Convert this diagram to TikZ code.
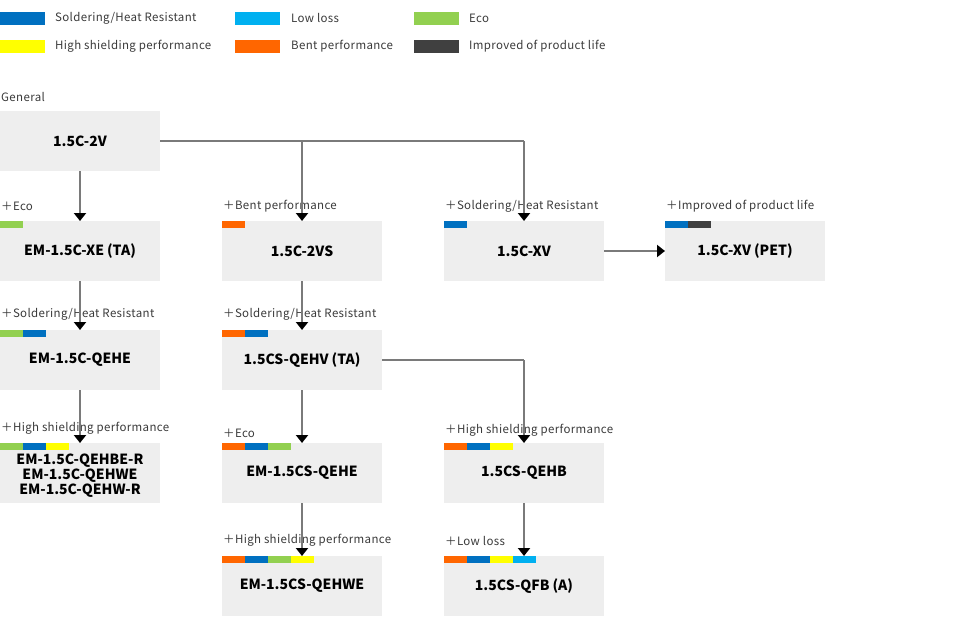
\documentclass[tikz,border=0pt]{standalone}
\usepackage{fontspec}
\setmainfont{Noto Sans CJK JP}
\newfontfamily\lblfont[LetterSpace=3]{Noto Sans CJK JP}
\usetikzlibrary{arrows.meta}
\definecolor{cSold}{HTML}{0070C0}
\definecolor{cLow}{HTML}{00B0F0}
\definecolor{cEco}{HTML}{92D050}
\definecolor{cShield}{HTML}{FFFF00}
\definecolor{cBent}{HTML}{FF6600}
\definecolor{cLife}{HTML}{404040}
\definecolor{boxfill}{HTML}{EEEEEE}
\definecolor{lblcol}{HTML}{3A3A3A}
\definecolor{linecol}{HTML}{7A7A7A}
\tikzset{
  prodbox/.style={fill=boxfill, minimum width=160pt, minimum height=60pt, inner sep=0pt, outer sep=0pt, anchor=north west,
    font=\fontsize{14}{15}\selectfont\bfseries, text=black, align=center},
  boxtext/.style={inner sep=0pt, font=\fontsize{14}{15}\selectfont\bfseries, text=black, align=center},
  lbl/.style={anchor=west, inner sep=0pt, font=\lblfont\fontsize{11.5}{13}\selectfont, text=lblcol},
  swatch/.style={inner sep=0pt, outer sep=0pt, minimum width=45pt, minimum height=13pt, anchor=west},
  conn/.style={draw=linecol, line width=2pt, -{Triangle[width=12pt,length=8pt,color=black]}},
  plainline/.style={draw=linecol, line width=2pt},
}
\newcommand{\bars}[2]{%
  \foreach \c [count=\i from 0] in {#2} {\fill[\c] ([xshift=\i*23pt]#1.north west) rectangle ++(23,7);}}
\newcommand{\pp}[1]{\hspace{3pt}(#1)}
\begin{document}
\begin{tikzpicture}[x=1pt,y=-1pt]
\useasboundingbox (0,0) rectangle (960,616);
% legend
\node[swatch, fill=cSold] (s1) at (0,18) {};
\node[lbl] (t1) at (55,18) {Soldering/Heat Resistant};
\node[swatch, fill=cLow] (s2) at (235,18) {};
\node[lbl] (t2) at (291,18) {Low loss};
\node[swatch, fill=cEco] (s3) at (414,18) {};
\node[lbl] (t3) at (469,18) {Eco};
\node[swatch, fill=cShield] (s4) at (0,46.5) {};
\node[lbl] (t4) at (55,46.5) {High shielding performance};
\node[swatch, fill=cBent] (s5) at (235,46.5) {};
\node[lbl] (t5) at (291,46.5) {Bent performance};
\node[swatch, fill=cLife] (s6) at (414,46.5) {};
\node[lbl] (t6) at (469,46.5) {Improved of product life};

% boxes
\node[prodbox] (top) at (0,111) {1.5C-2V};
\node[prodbox] (xe) at (0,221) {EM-1.5C-XE\pp{TA}};
\node[prodbox] (vs) at (222,221) {1.5C-2VS};
\node[prodbox] (xv) at (444,221) {1.5C-XV};
\node[prodbox] (pet) at (665,221) {1.5C-XV\pp{PET}};
\node[prodbox] (qehe) at (0,330) {EM-1.5C-QEHE};
\node[prodbox] (qehv) at (222,330) {1.5CS-QEHV\pp{TA}};
\node[prodbox] (multi) at (0,443) {};
\node[boxtext] (multitxt) at ([yshift=-3pt]multi.center) {EM-1.5C-QEHBE-R\\EM-1.5C-QEHWE\\EM-1.5C-QEHW-R};
\node[prodbox] (csqehe) at (222,443) {EM-1.5CS-QEHE};
\node[prodbox] (qehb) at (444,443) {1.5CS-QEHB};
\node[prodbox] (qehwe) at (222,556) {EM-1.5CS-QEHWE};
\node[prodbox] (qfb) at (444,556) {1.5CS-QFB\pp{A}};

% labels
\node[lbl] (l0) at (1,97) {General};
\node[lbl] (l1) at (1,206.5) {＋Eco};
\node[lbl] (l2) at (223,206.5) {＋Bent performance};
\node[lbl] (l3) at (445,206.5) {＋Soldering/Heat Resistant};
\node[lbl] (l4) at (666,206.5) {＋Improved of product life};
\node[lbl] (l5) at (1,314.5) {＋Soldering/Heat Resistant};
\node[lbl] (l6) at (223,314.5) {＋Soldering/Heat Resistant};
\node[lbl] (l7) at (1,428) {＋High shielding performance};
\node[lbl] (l8) at (223,433) {＋Eco};
\node[lbl] (l9) at (445,430.5) {＋High shielding performance};
\node[lbl] (l10) at (223,540.5) {＋High shielding performance};
\node[lbl] (l11) at (445,540.5) {＋Low loss};

% colour bars
\bars{xe}{cEco}
\bars{vs}{cBent}
\bars{xv}{cSold}
\bars{pet}{cSold,cLife}
\bars{qehe}{cEco,cSold}
\bars{qehv}{cBent,cSold}
\bars{multi}{cEco,cSold,cShield}
\bars{csqehe}{cBent,cSold,cEco}
\bars{qehb}{cBent,cSold,cShield}
\bars{qehwe}{cBent,cSold,cEco,cShield}
\bars{qfb}{cBent,cSold,cShield,cLow}

% connectors
\coordinate (j1) at (top.east -| vs.north);
\coordinate (j2) at (top.east -| xv.north);
\coordinate (j3) at (qehv.east -| qehb.north);
\draw[plainline] (top.east) -- (j2);
\draw[conn] (j1) -- (vs.north);
\draw[conn] (j2) -- (xv.north);
\draw[conn] (top.south) -- (xe.north);
\draw[conn] (xe.south) -- (qehe.north);
\draw[conn] (qehe.south) -- (multi.north);
\draw[conn] (vs.south) -- (qehv.north);
\draw[conn] (qehv.south) -- (csqehe.north);
\draw[conn] (csqehe.south) -- (qehwe.north);
\draw[plainline] (qehv.east) -- (j3);
\draw[conn] (j3) -- (qehb.north);
\draw[conn] (qehb.south) -- (qfb.north);
\draw[conn] (xv.east) -- (pet.west);
\end{tikzpicture}
\end{document}
